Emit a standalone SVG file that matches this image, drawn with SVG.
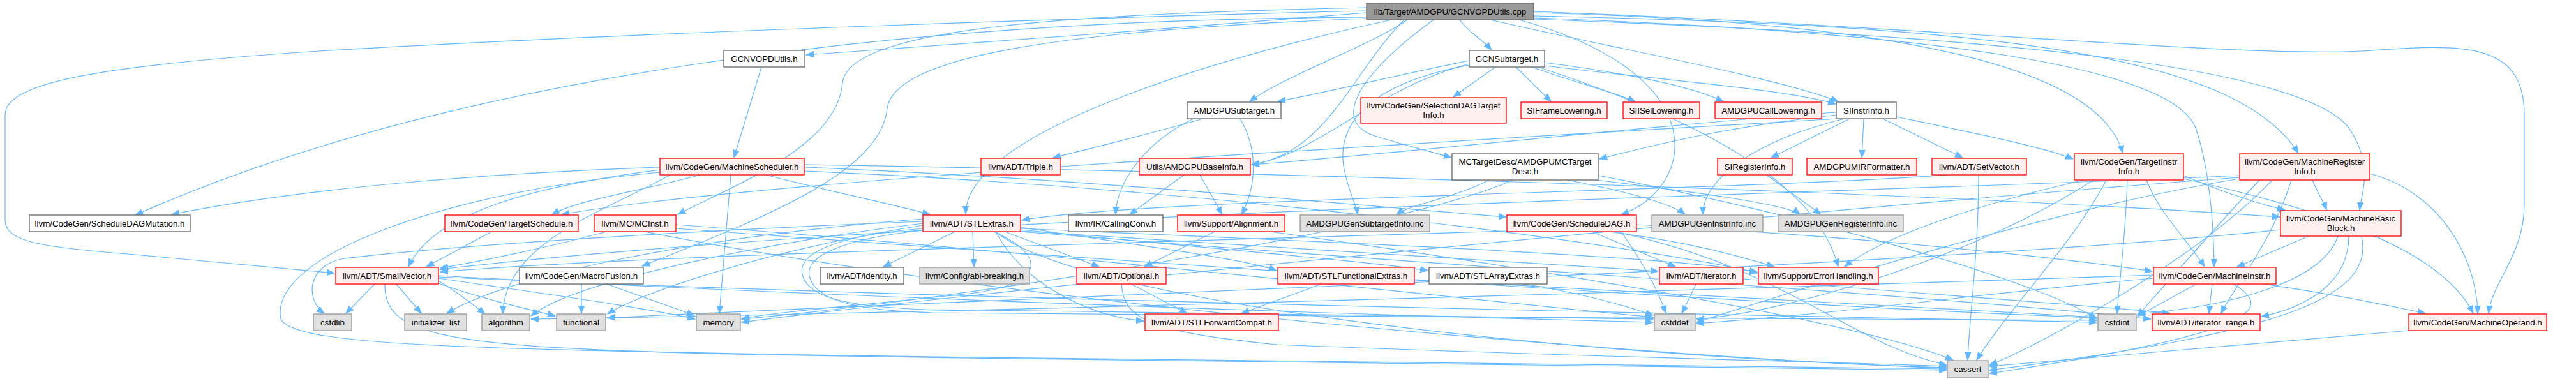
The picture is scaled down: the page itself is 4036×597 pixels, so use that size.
<svg xmlns="http://www.w3.org/2000/svg" width="4036" height="597" viewBox="0 0 4036 597">
<defs>
<marker id="arr" markerUnits="userSpaceOnUse" markerWidth="13" markerHeight="11" refX="12" refY="5.5" orient="auto">
<path d="M0,0.8 L12,5.5 L0,10.2 z" fill="#63b8ff" stroke="#63b8ff" stroke-width="1"/>
</marker>
<style>
.e{fill:none;stroke:#63b8ff;stroke-width:1.2;marker-end:url(#arr)}
rect{stroke-width:1.3}
.w rect{fill:#ffffff;stroke:#666666}
.r rect{fill:#fff0f0;stroke:#ff0000}
.g rect{fill:#e0e0e0;stroke:#999999}
.k rect{fill:#999999;stroke:#666666}
text{font-family:"Liberation Sans",Arial,sans-serif;font-size:13.33px;fill:#000000;text-anchor:middle}
</style>
</defs>
<rect x="0" y="0" width="4036" height="597" fill="#ffffff"/>
<g id="edges">
<path class="e" d="M2141,20 C1900,40 1500,70 1263,86"/>
<path class="e" d="M2141,27 C1400,30 700,120 212,337"/>
<path class="e" d="M2141,17 C1800,25 1000,50 500,80 C150,103 8,130 8,180 L8,345 C8,378 60,387 200,398 L524,428"/>
<path class="e" d="M2141,12 C1700,22 1330,40 1320,130 C1312,230 1150,290 1062,336"/>
<path class="e" d="M2141,29 C1650,48 1400,90 1390,170 C1380,270 1200,340 1006,417"/>
<path class="e" d="M2180,31 C1950,80 1513,200 1513,335"/>
<path class="e" d="M2205,31 C2150,70 2010,120 1958,159"/>
<path class="e" d="M2287,31 C2300,50 2320,60 2337,78"/>
<path class="e" d="M2246,31 C2150,100 2070,190 2160,215 C2200,227 2240,237 2274,247"/>
<path class="e" d="M2200,31 C2120,110 2080,240 1961,258"/>
<path class="e" d="M2335,31 C2500,70 2780,120 2880,159"/>
<path class="e" d="M2380,31 C2700,120 2650,300 2540,336"/>
<path class="e" d="M2403,20 C3000,35 3290,110 3326,240"/>
<path class="e" d="M2403,25 C3100,40 3500,80 3601,240"/>
<path class="e" d="M2403,28 C3000,50 3400,100 3440,200 C3460,260 3468,340 3469,418"/>
<path class="e" d="M2403,30 C3100,55 3600,100 3680,200 C3720,260 3700,300 3697,329"/>
<path class="e" d="M2403,18 C3000,40 3500,90 3700,80 C3850,70 3955,60 3955,180 L3955,320 C3955,400 3905,440 3899,491"/>
<path class="e" d="M1193,105 L1150,247"/>
<path class="e" d="M1034,262 C800,270 500,290 269,336"/>
<path class="e" d="M1034,266 C850,290 680,330 640,418"/>
<path class="e" d="M1097,274 C1000,300 900,315 865,336"/>
<path class="e" d="M1145,274 L1127,491"/>
<path class="e" d="M1200,274 C1300,300 1400,320 1457,336"/>
<path class="e" d="M1260,262 C1700,280 2100,320 2360,340"/>
<path class="e" d="M1260,258 C2000,270 3000,300 3572,340"/>
<path class="e" d="M1260,268 C2000,300 2650,400 2754,428"/>
<path class="e" d="M1050,274 C950,330 790,380 788,491"/>
<path class="e" d="M1034,270 C700,300 420,400 440,500 C460,540 700,545 1200,555 C2000,568 2900,575 3050,578"/>
<path class="e" d="M1885,186 C1800,210 1680,240 1650,247"/>
<path class="e" d="M1870,186 C1800,220 1750,280 1748,336"/>
<path class="e" d="M1943,186 C1975,240 1965,300 1945,336"/>
<path class="e" d="M2302,95 C2200,115 2100,140 2002,159"/>
<path class="e" d="M2343,105 L2277,152"/>
<path class="e" d="M2375,105 L2430,159"/>
<path class="e" d="M2400,105 C2470,130 2530,145 2562,159"/>
<path class="e" d="M2420,98 C2550,115 2650,135 2700,159"/>
<path class="e" d="M2420,103 C2600,125 2800,140 2876,163"/>
<path class="e" d="M2302,100 C2150,140 2070,240 1961,258"/>
<path class="e" d="M2410,105 C2700,200 2850,300 2880,418"/>
<path class="e" d="M2302,102 C2150,130 2095,190 2105,260 C2112,300 2125,320 2127,336"/>
<path class="e" d="M2333,282 C2280,310 2210,320 2188,336"/>
<path class="e" d="M2455,282 C2550,300 2620,320 2640,336"/>
<path class="e" d="M2500,282 C2650,300 2800,320 2820,336"/>
<path class="e" d="M2370,282 C2200,360 1500,470 1162,500"/>
<path class="e" d="M2504,275 C2800,330 3200,440 3285,500"/>
<path class="e" d="M2898,186 L2775,247"/>
<path class="e" d="M2920,186 L2917,247"/>
<path class="e" d="M2950,186 L3075,247"/>
<path class="e" d="M2971,183 C3100,210 3200,230 3248,249"/>
<path class="e" d="M2877,180 C2700,200 2600,225 2506,249"/>
<path class="e" d="M2877,176 C2600,195 2200,240 1961,258"/>
<path class="e" d="M2880,186 C2300,220 1200,280 880,336"/>
<path class="e" d="M2890,186 C2750,220 2668,280 2668,336"/>
<path class="e" d="M2768,274 L2853,336"/>
<path class="e" d="M3053,274 C2700,300 1800,310 1601,345"/>
<path class="e" d="M3100,274 C3100,400 3085,500 3083,564"/>
<path class="e" d="M3421,275 C3480,300 3540,320 3580,329"/>
<path class="e" d="M3363,282 C3380,330 3430,380 3454,418"/>
<path class="e" d="M3421,280 C3600,320 3820,380 3875,491"/>
<path class="e" d="M3265,282 C3100,320 2950,370 2890,418"/>
<path class="e" d="M3300,282 C3250,380 3150,480 3097,564"/>
<path class="e" d="M3333,282 C3330,380 3320,440 3317,491"/>
<path class="e" d="M3280,282 C3100,400 2800,490 2658,500"/>
<path class="e" d="M3623,282 C3630,300 3640,315 3645,329"/>
<path class="e" d="M3713,272 C3820,300 3880,400 3882,491"/>
<path class="e" d="M3509,275 C3000,300 1500,330 689,422"/>
<path class="e" d="M3590,282 C3560,380 3500,450 3480,491"/>
<path class="e" d="M3560,282 C3450,400 3200,540 3117,572"/>
<path class="e" d="M3509,280 C3200,330 2800,460 2658,505"/>
<path class="e" d="M3540,282 C3450,380 3380,460 3349,495"/>
<path class="e" d="M3509,278 C2800,330 1500,460 1162,505"/>
<path class="e" d="M3617,370 L3505,418"/>
<path class="e" d="M3680,370 C3680,440 3620,480 3543,496"/>
<path class="e" d="M3700,370 C3720,460 3600,520 3117,580"/>
<path class="e" d="M3663,370 C3640,440 3500,480 3349,492"/>
<path class="e" d="M3573,360 C3000,420 1500,470 951,498"/>
<path class="e" d="M3466,444 L3461,491"/>
<path class="e" d="M3540,444 C3650,460 3750,480 3800,491"/>
<path class="e" d="M3443,444 L3350,495"/>
<path class="e" d="M3497,444 C3560,480 3560,520 3117,585"/>
<path class="e" d="M3374,431 C2500,460 1500,490 832,500"/>
<path class="e" d="M3374,436 C3100,460 2900,490 2658,507"/>
<path class="e" d="M3774,518 C3500,540 3300,560 3117,574"/>
<path class="e" d="M2361,362 C1800,380 1000,400 690,426"/>
<path class="e" d="M2494,363 L2625,418"/>
<path class="e" d="M2564,352 C2900,370 3200,400 3372,425"/>
<path class="e" d="M2520,363 C2650,380 2720,400 2780,418"/>
<path class="e" d="M2530,363 C2800,420 2900,540 3050,572"/>
<path class="e" d="M2540,363 C2580,420 2600,460 2610,491"/>
<path class="e" d="M1496,363 L1384,418"/>
<path class="e" d="M1524,363 L1526,418"/>
<path class="e" d="M1574,363 L1722,418"/>
<path class="e" d="M1599,356 C1750,380 1950,405 2000,424"/>
<path class="e" d="M1599,360 C1900,390 2150,410 2237,424"/>
<path class="e" d="M1599,362 C2000,390 2400,410 2598,425"/>
<path class="e" d="M1599,363 C2300,420 3000,460 3370,500"/>
<path class="e" d="M1599,358 C2100,380 2600,400 2753,426"/>
<path class="e" d="M1560,363 C1600,440 1700,495 1792,503"/>
<path class="e" d="M1446,350 C1200,380 900,440 832,495"/>
<path class="e" d="M1560,363 C1700,480 2500,560 3050,576"/>
<path class="e" d="M1446,358 C1300,370 1250,400 1257,430 C1265,465 1320,480 1450,485 C1900,490 2400,498 2590,500"/>
<path class="e" d="M1446,361 C1310,375 1262,405 1268,432 C1276,468 1330,486 1460,490 C2000,496 2900,500 3285,502"/>
<path class="e" d="M1446,347 C1100,360 700,385 540,405 C480,415 478,470 508,491"/>
<path class="e" d="M1446,353 C1200,392 1000,460 952,492"/>
<path class="e" d="M1446,343 C1100,370 800,430 700,491"/>
<path class="e" d="M1557,363 C1640,400 1640,445 1520,460 C1350,478 1200,490 1162,500"/>
<path class="e" d="M588,444 L542,491"/>
<path class="e" d="M620,444 L660,491"/>
<path class="e" d="M687,440 C720,460 745,480 760,492"/>
<path class="e" d="M687,444 C760,470 830,485 870,495"/>
<path class="e" d="M687,436 C850,460 1000,480 1089,500"/>
<path class="e" d="M603,444 C600,530 700,545 1200,556 C2000,570 2900,578 3050,580"/>
<path class="e" d="M687,432 C1200,460 2000,490 2590,505"/>
<path class="e" d="M687,434 C1500,470 2800,495 3285,505"/>
<path class="e" d="M950,363 C850,390 750,410 690,420"/>
<path class="e" d="M1010,363 C1600,480 2600,560 3050,577"/>
<path class="e" d="M1059,352 C1700,400 2300,470 2590,497"/>
<path class="e" d="M1059,358 C1900,420 2800,480 3285,498"/>
<path class="e" d="M770,363 L668,418"/>
<path class="e" d="M911,444 L911,491"/>
<path class="e" d="M947,444 L1088,494"/>
<path class="e" d="M1770,444 L1860,491"/>
<path class="e" d="M1757,444 C1760,500 1800,520 2000,540 C2500,560 2900,568 3050,574"/>
<path class="e" d="M1903,363 L1793,418"/>
<path class="e" d="M1990,363 C2400,420 2900,500 3060,564"/>
<path class="e" d="M1855,274 L1770,336"/>
<path class="e" d="M1880,274 L1915,336"/>
<path class="e" d="M2073,444 L1945,491"/>
<path class="e" d="M2216,438 C2600,460 3000,480 3285,497"/>
<path class="e" d="M2382,444 C2480,460 2550,480 2590,494"/>
<path class="e" d="M2658,444 L2635,491"/>
<path class="e" d="M2731,437 C3000,460 3300,480 3400,491"/>
</g>
<g id="node-root" class="k"><rect x="2141" y="5" width="262" height="26"/><text x="2272" y="22.5">lib/Target/AMDGPU/GCNVOPDUtils.cpp</text></g>
<g id="node-vopdh" class="w"><rect x="1134" y="79" width="127" height="26"/><text x="1197.5" y="96.5">GCNVOPDUtils.h</text></g>
<g id="node-gcnst" class="w"><rect x="2302" y="79" width="118" height="26"/><text x="2361" y="96.5">GCNSubtarget.h</text></g>
<g id="node-msched" class="r"><rect x="1034" y="248" width="226" height="26"/><text x="1147" y="265.5">llvm/CodeGen/MachineScheduler.h</text></g>
<g id="node-amdst" class="w"><rect x="1860" y="160" width="147" height="26"/><text x="1933.5" y="177.5">AMDGPUSubtarget.h</text></g>
<g id="node-triple" class="r"><rect x="1537" y="248" width="124" height="26"/><text x="1599" y="265.5">llvm/ADT/Triple.h</text></g>
<g id="node-baseinfo" class="r"><rect x="1785" y="248" width="174" height="26"/><text x="1872" y="265.5">Utils/AMDGPUBaseInfo.h</text></g>
<g id="node-sdti" class="r"><rect x="2132" y="153" width="228" height="40"/><text x="2246" y="169.5">llvm/CodeGen/SelectionDAGTarget</text><text x="2246" y="185">Info.h</text></g>
<g id="node-sifl" class="r"><rect x="2383" y="160" width="135" height="26"/><text x="2450.5" y="177.5">SIFrameLowering.h</text></g>
<g id="node-siisel" class="r"><rect x="2543" y="160" width="120" height="26"/><text x="2603" y="177.5">SIISelLowering.h</text></g>
<g id="node-callow" class="r"><rect x="2687" y="160" width="167" height="26"/><text x="2770.5" y="177.5">AMDGPUCallLowering.h</text></g>
<g id="node-siinstr" class="w"><rect x="2877" y="160" width="94" height="26"/><text x="2924" y="177.5">SIInstrInfo.h</text></g>
<g id="node-mctd" class="w"><rect x="2275" y="241" width="229" height="41"/><text x="2389.5" y="258">MCTargetDesc/AMDGPUMCTarget</text><text x="2389.5" y="273">Desc.h</text></g>
<g id="node-sireg" class="r"><rect x="2691" y="248" width="117" height="26"/><text x="2749.5" y="265.5">SIRegisterInfo.h</text></g>
<g id="node-mirf" class="r"><rect x="2831" y="248" width="172" height="26"/><text x="2917" y="265.5">AMDGPUMIRFormatter.h</text></g>
<g id="node-setvec" class="r"><rect x="3027" y="248" width="148" height="26"/><text x="3101" y="265.5">llvm/ADT/SetVector.h</text></g>
<g id="node-tii" class="r"><rect x="3250" y="241" width="171" height="41"/><text x="3335.5" y="258">llvm/CodeGen/TargetInstr</text><text x="3335.5" y="273">Info.h</text></g>
<g id="node-mri" class="r"><rect x="3509" y="241" width="204" height="41"/><text x="3611" y="258">llvm/CodeGen/MachineRegister</text><text x="3611" y="273">Info.h</text></g>
<g id="node-sdmut" class="w"><rect x="46" y="337" width="252" height="26"/><text x="172" y="354.5">llvm/CodeGen/ScheduleDAGMutation.h</text></g>
<g id="node-tsched" class="r"><rect x="697" y="337" width="209" height="26"/><text x="801.5" y="354.5">llvm/CodeGen/TargetSchedule.h</text></g>
<g id="node-mcinst" class="r"><rect x="931" y="337" width="128" height="26"/><text x="995" y="354.5">llvm/MC/MCInst.h</text></g>
<g id="node-stlext" class="r"><rect x="1446" y="337" width="153" height="26"/><text x="1522.5" y="354.5">llvm/ADT/STLExtras.h</text></g>
<g id="node-cconv" class="w"><rect x="1674" y="337" width="148" height="26"/><text x="1748" y="354.5">llvm/IR/CallingConv.h</text></g>
<g id="node-align" class="r"><rect x="1845" y="337" width="168" height="26"/><text x="1929" y="354.5">llvm/Support/Alignment.h</text></g>
<g id="node-gensub" class="g"><rect x="2037" y="337" width="203" height="26"/><text x="2138.5" y="354.5">AMDGPUGenSubtargetInfo.inc</text></g>
<g id="node-sdag" class="r"><rect x="2361" y="337" width="203" height="26"/><text x="2462.5" y="354.5">llvm/CodeGen/ScheduleDAG.h</text></g>
<g id="node-geninstr" class="g"><rect x="2588" y="337" width="174" height="26"/><text x="2675" y="354.5">AMDGPUGenInstrInfo.inc</text></g>
<g id="node-genreg" class="g"><rect x="2786" y="337" width="196" height="26"/><text x="2884" y="354.5">AMDGPUGenRegisterInfo.inc</text></g>
<g id="node-mbb" class="r"><rect x="3573" y="330" width="189" height="40"/><text x="3667.5" y="346.5">llvm/CodeGen/MachineBasic</text><text x="3667.5" y="362">Block.h</text></g>
<g id="node-smallvec" class="r"><rect x="526" y="419" width="161" height="26"/><text x="606.5" y="436.5">llvm/ADT/SmallVector.h</text></g>
<g id="node-macrofus" class="w"><rect x="814" y="419" width="194" height="26"/><text x="911" y="436.5">llvm/CodeGen/MacroFusion.h</text></g>
<g id="node-identity" class="w"><rect x="1285" y="419" width="131" height="26"/><text x="1350.5" y="436.5">llvm/ADT/identity.h</text></g>
<g id="node-abi" class="g"><rect x="1441" y="419" width="172" height="26"/><text x="1527" y="436.5">llvm/Config/abi-breaking.h</text></g>
<g id="node-optional" class="r"><rect x="1687" y="419" width="140" height="26"/><text x="1757" y="436.5">llvm/ADT/Optional.h</text></g>
<g id="node-stlfunc" class="r"><rect x="2002" y="419" width="214" height="26"/><text x="2109" y="436.5">llvm/ADT/STLFunctionalExtras.h</text></g>
<g id="node-stlarr" class="w"><rect x="2239" y="419" width="185" height="26"/><text x="2331.5" y="436.5">llvm/ADT/STLArrayExtras.h</text></g>
<g id="node-iter" class="r"><rect x="2600" y="419" width="131" height="26"/><text x="2665.5" y="436.5">llvm/ADT/iterator.h</text></g>
<g id="node-errh" class="r"><rect x="2755" y="419" width="188" height="26"/><text x="2849" y="436.5">llvm/Support/ErrorHandling.h</text></g>
<g id="node-minstr" class="r"><rect x="3374" y="419" width="192" height="26"/><text x="3470" y="436.5">llvm/CodeGen/MachineInstr.h</text></g>
<g id="node-cstdlib" class="g"><rect x="491" y="492" width="60" height="26"/><text x="521" y="509.5">cstdlib</text></g>
<g id="node-initl" class="g"><rect x="634" y="492" width="97" height="26"/><text x="682.5" y="509.5">initializer_list</text></g>
<g id="node-algo" class="g"><rect x="755" y="492" width="75" height="26"/><text x="792.5" y="509.5">algorithm</text></g>
<g id="node-func" class="g"><rect x="872" y="492" width="77" height="26"/><text x="910.5" y="509.5">functional</text></g>
<g id="node-memory" class="g"><rect x="1091" y="492" width="69" height="26"/><text x="1125.5" y="509.5">memory</text></g>
<g id="node-stlfwd" class="r"><rect x="1794" y="492" width="209" height="26"/><text x="1898.5" y="509.5">llvm/ADT/STLForwardCompat.h</text></g>
<g id="node-cstddef" class="g"><rect x="2592" y="492" width="64" height="26"/><text x="2624" y="509.5">cstddef</text></g>
<g id="node-cstdint" class="g"><rect x="3287" y="492" width="60" height="26"/><text x="3317" y="509.5">cstdint</text></g>
<g id="node-itrange" class="r"><rect x="3372" y="492" width="169" height="26"/><text x="3456.5" y="509.5">llvm/ADT/iterator_range.h</text></g>
<g id="node-mop" class="r"><rect x="3774" y="492" width="216" height="26"/><text x="3882" y="509.5">llvm/CodeGen/MachineOperand.h</text></g>
<g id="node-cassert" class="g"><rect x="3051" y="565" width="64" height="27"/><text x="3083" y="583">cassert</text></g>
</svg>
